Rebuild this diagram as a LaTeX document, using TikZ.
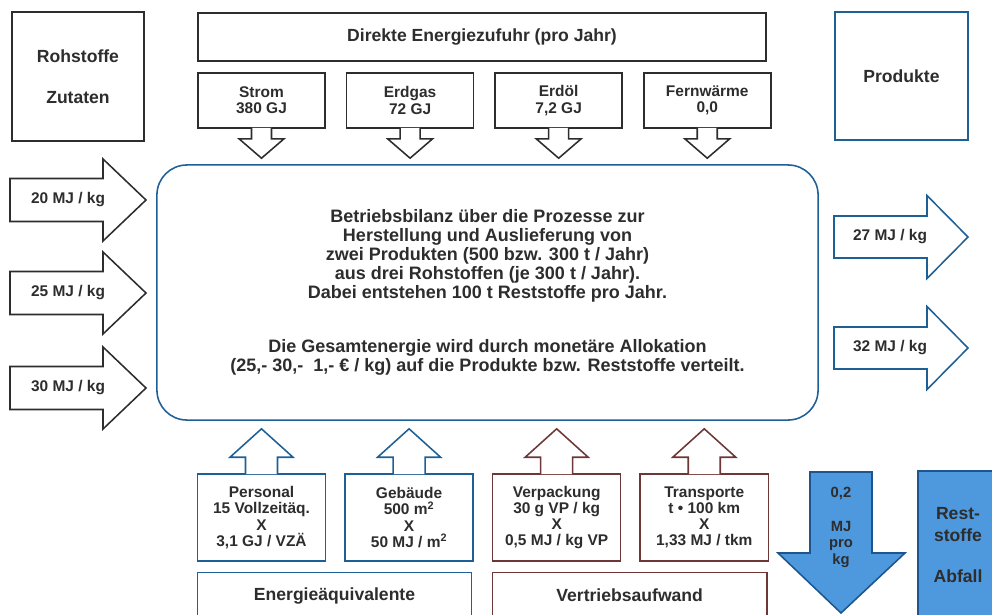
\documentclass[tikz,border=0pt]{standalone}
\usepackage{fontspec}
\setmainfont{Liberation Sans}
\usetikzlibrary{calc,positioning}
\definecolor{inkgrey}{RGB}{45,45,45}
\definecolor{lineblue}{RGB}{30,95,150}
\definecolor{linebrown}{RGB}{110,55,55}
\definecolor{wasteblue}{RGB}{78,152,222}
\definecolor{wasteline}{RGB}{30,85,140}

\begin{document}
\begin{tikzpicture}[
    x=0.025cm, y=-0.025cm,
    every node/.style={text=inkgrey},
    headfont/.style={font=\fontsize{12.5}{14}\selectfont\bfseries},
    boxfont/.style={font=\fontsize{11}{11.5}\selectfont\bfseries},
    arrowfont/.style={font=\fontsize{11}{12}\selectfont\bfseries},
    greybox/.style={draw=inkgrey, line width=1.1pt, fill=white, inner sep=0pt,
                    align=center},
    bluebox/.style={greybox, draw=lineblue},
    brownbox/.style={greybox, draw=linebrown},
    srcbox/.style={greybox, boxfont, minimum width=3.175cm, minimum height=1.375cm},
    costbox/.style={boxfont, minimum width=3.2cm, minimum height=2.175cm},
    notch/.style={draw=inkgrey, line width=1.1pt, fill=white},
    flowarrow/.style={draw=inkgrey, line width=1.1pt, fill=white},
    wastebox/.style={draw=wasteline, line width=1.1pt, fill=wasteblue, inner sep=0pt,
                     align=center}
  ]
  \useasboundingbox (0,0) rectangle (992,614);
  \clip (0,0) rectangle (992,614);

  % Top: inputs and direct energy
  \node[greybox, headfont, minimum width=3.3cm, minimum height=3.225cm] (rohstoffe)
    at (78,76.5) {Rohstoffe\\[15pt]Zutaten};
  \node[greybox, headfont, minimum width=14.2cm, minimum height=1.2cm] (direkt)
    at (482,37) {Direkte Energiezufuhr (pro Jahr)};
  \node[bluebox, headfont, minimum width=3.325cm, minimum height=3.2cm] (produkte)
    at (901.5,76) {Produkte};

  \node[srcbox] (strom) at (261.5,100.5) {Strom\\380 GJ};
  \node[srcbox, right=0.5cm of strom] (erdgas) {Erdgas\\72 GJ};
  \node[srcbox, right=0.5cm of erdgas] (erdoel) {Erdöl\\7,2 GJ};
  \node[srcbox, right=0.5cm of erdoel] (fernwaerme) {Fernwärme\\0,0};

  % Middle: plant balance
  \node[bluebox, rounded corners=0.75cm, minimum width=16.525cm, minimum height=6.375cm,
        font=\fontsize{12.8}{13.5}\selectfont\bfseries] (main) at (487.5,292.5)
    {Betriebsbilanz über die Prozesse zur\\Herstellung und Auslieferung von\\
     zwei Produkten (500 bzw. 300 t / Jahr)\\aus drei Rohstoffen (je 300 t / Jahr).\\
     Dabei entstehen 100 t Reststoffe pro Jahr.\\[25pt]
     Die Gesamtenergie wird durch monetäre Allokation\\
     (25,- 30,-\ \ 1,- € / kg) auf die Produkte bzw. Reststoffe verteilt.};

  \draw[notch] ($(strom.south)+(-10,-1)$) -- ++(0,11) -- ++(-12.5,0)
    -- ($(strom.south |- main.north)+(0,-6)$) -- ($(strom.south)+(22.5,10)$) -- ++(-12.5,0) -- ++(0,-11);
  \draw[notch] ($(erdgas.south)+(-10,-1)$) -- ++(0,11) -- ++(-12.5,0)
    -- ($(erdgas.south |- main.north)+(0,-6)$) -- ($(erdgas.south)+(22.5,10)$) -- ++(-12.5,0) -- ++(0,-11);
  \draw[notch] ($(erdoel.south)+(-10,-1)$) -- ++(0,11) -- ++(-12.5,0)
    -- ($(erdoel.south |- main.north)+(0,-6)$) -- ($(erdoel.south)+(22.5,10)$) -- ++(-12.5,0) -- ++(0,-11);
  \draw[notch] ($(fernwaerme.south)+(-10,-1)$) -- ++(0,11) -- ++(-12.5,0)
    -- ($(fernwaerme.south |- main.north)+(0,-6)$) -- ($(fernwaerme.south)+(22.5,10)$) -- ++(-12.5,0) -- ++(0,-11);

  % Left: raw materials in
  \draw[flowarrow] (10,178.5) -- (103,178.5) -- (103,159) -- (146,200) -- (103,241)
    -- (103,221.5) -- (10,221.5) -- cycle;
  \draw[flowarrow] (10,271.5) -- (103,271.5) -- (103,252) -- (146,293) -- (103,334)
    -- (103,314.5) -- (10,314.5) -- cycle;
  \draw[flowarrow] (10,366.5) -- (103,366.5) -- (103,347) -- (146,388) -- (103,429)
    -- (103,409.5) -- (10,409.5) -- cycle;
  \node[arrowfont] (in1) at (68,200) {20 MJ / kg};
  \node[arrowfont] (in2) at (68,293) {25 MJ / kg};
  \node[arrowfont] (in3) at (68,388) {30 MJ / kg};

  % Right: products out
  \draw[flowarrow, draw=lineblue] (834,216) -- (927,216) -- (927,195.5) -- (968,237)
    -- (927,278.5) -- (927,258) -- (834,258) -- cycle;
  \draw[flowarrow, draw=lineblue] (834,327) -- (927,327) -- (927,306.5) -- (968,348)
    -- (927,389.5) -- (927,369) -- (834,369) -- cycle;
  \node[arrowfont] (out1) at (890,237) {27 MJ / kg};
  \node[arrowfont] (out2) at (890,348) {32 MJ / kg};

  % Bottom: indirect energy
  \node[bluebox, costbox] (personal) at (261.5,517.5)
    {Personal\\15 Vollzeitäq.\\X\\3,1 GJ / VZÄ};
  \node[bluebox, costbox, right=0.45cm of personal] (gebaeude)
    {Gebäude\\500 m\textsuperscript{2}\\X\\50 MJ / m\textsuperscript{2}};
  \node[brownbox, costbox, right=0.45cm of gebaeude] (verpackung)
    {Verpackung\\30 g VP / kg\\X\\0,5 MJ / kg VP};
  \node[brownbox, costbox, right=0.45cm of verpackung] (transporte)
    {Transporte\\t • 100 km\\X\\1,33 MJ / tkm};

  \node[bluebox, headfont, minimum width=6.85cm, minimum height=1.15cm,
        below right=0.25cm and 0cm of personal.south west] (energie) {Energieäquivalente};
  \node[brownbox, headfont, minimum width=6.85cm, minimum height=1.15cm,
        below right=0.25cm and 0cm of verpackung.south west] (vertrieb) {Vertriebsaufwand};

  \draw[notch, draw=lineblue] ($(personal.north)+(-16,1)$) -- ++(0,-17) -- ++(-15.5,0)
    -- ($(personal.north |- main.south)+(0,8)$) -- ($(personal.north)+(31.5,-16)$) -- ++(-15.5,0) -- ++(0,17);
  \draw[notch, draw=lineblue] ($(gebaeude.north)+(-16,1)$) -- ++(0,-17) -- ++(-15.5,0)
    -- ($(gebaeude.north |- main.south)+(0,8)$) -- ($(gebaeude.north)+(31.5,-16)$) -- ++(-15.5,0) -- ++(0,17);
  \draw[notch, draw=linebrown] ($(verpackung.north)+(-16,1)$) -- ++(0,-17) -- ++(-15.5,0)
    -- ($(verpackung.north |- main.south)+(0,8)$) -- ($(verpackung.north)+(31.5,-16)$) -- ++(-15.5,0) -- ++(0,17);
  \draw[notch, draw=linebrown] ($(transporte.north)+(-16,1)$) -- ++(0,-17) -- ++(-15.5,0)
    -- ($(transporte.north |- main.south)+(0,8)$) -- ($(transporte.north)+(31.5,-16)$) -- ++(-15.5,0) -- ++(0,17);

  % Residues
  \draw[draw=wasteline, line width=1.1pt, fill=wasteblue] (810,472) -- (872,472) -- (872,553)
    -- (905,553) -- (841,613) -- (778,553) -- (810,553) -- cycle;
  \node[font=\fontsize{10.5}{11.5}\selectfont\bfseries, align=center] (waste) at (841,527)
    {0,2\\[13pt]MJ\\pro\\kg};
  \node[wastebox, font=\fontsize{12.5}{15.5}\selectfont\bfseries, minimum width=2cm,
        minimum height=3.7cm] (rest) at (958,545) {Rest-\\stoffe\\[14pt]Abfall};
\end{tikzpicture}
\end{document}
